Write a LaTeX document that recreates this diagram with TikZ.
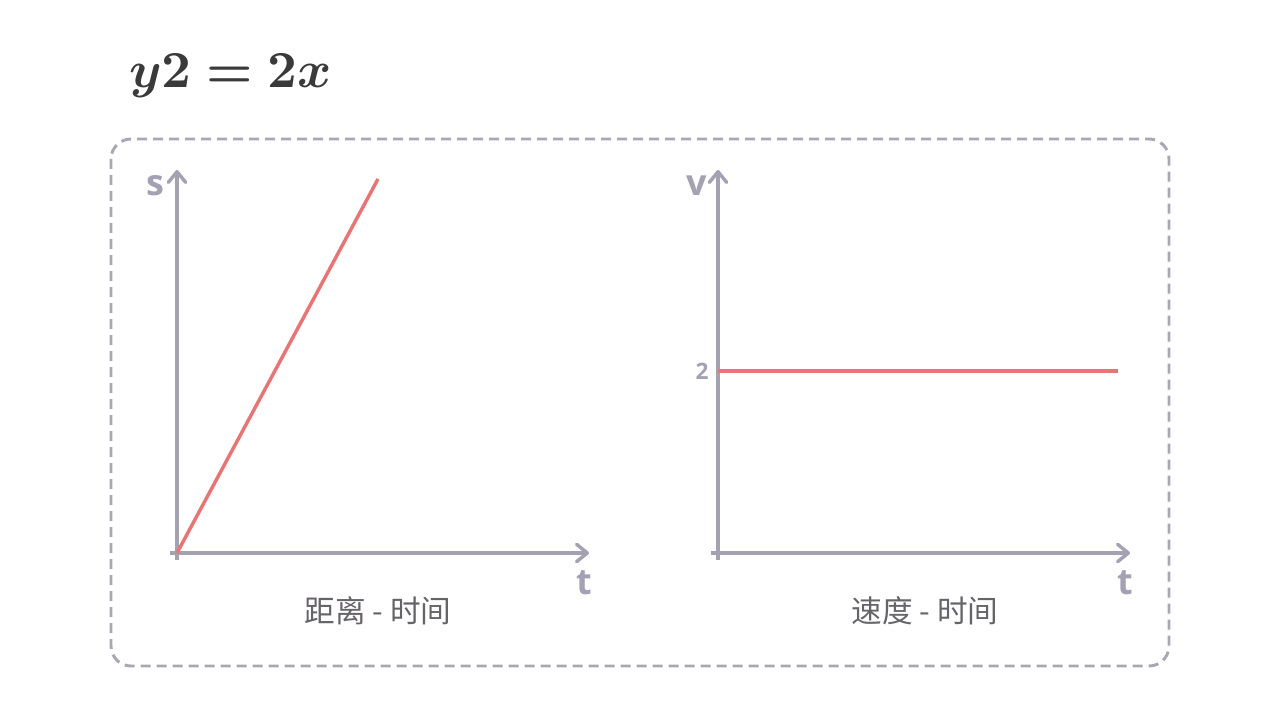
\documentclass[tikz,border=0pt]{standalone}
\usepackage{amsmath}
\usepackage{bm}
\usepackage{fontspec}
\newfontfamily\cjk{Noto Sans CJK SC}
\newfontfamily\lab{Open Sans}
\usetikzlibrary{arrows.meta}
\definecolor{axisc}{HTML}{A4A1B3}
\definecolor{redc}{HTML}{E87575}
\definecolor{titlec}{HTML}{3A3A3A}
\definecolor{capc}{HTML}{666468}
\definecolor{framec}{HTML}{A9A7B2}
\tikzset{
  axis/.style={draw=axisc, line width=3pt, -{Straight Barb[length=8pt,width=13pt,line width=2.6pt,round]}},
  curve/.style={draw=redc, line width=2.6pt},
  axlab/.style={text=axisc, font=\lab\bfseries\fontsize{27}{30}\selectfont, inner sep=0pt},
  caption/.style={text=capc, font=\cjk\fontsize{23}{27}\selectfont, inner sep=0pt},
}
\begin{document}
\begin{tikzpicture}[x=0.75pt,y=-0.75pt]
\useasboundingbox (0,0) rectangle (1280,720);
\node[anchor=base west, text=titlec, inner sep=0pt] (title) at (129,88) {\scalebox{3.9}{$\bm{y2=2x}$}};
\draw[framec, line width=2.2pt, dash pattern=on 7.5pt off 4.5pt, rounded corners=15pt] (111,139) rectangle (1169,666);
% left graph
\coordinate (o1) at (177,553);
\coordinate (y1b) at (177,560);
\coordinate (y1t) at (177,170);
\coordinate (x1l) at (170,553);
\coordinate (x1r) at (589,553);
\coordinate (l1e) at (378,179);
\draw[axis] (y1b) -- (y1t);
\draw[axis] (x1l) -- (x1r);
\draw[curve] (o1) -- (l1e);
\node[axlab] (s) at (155,186) {s};
\node[axlab] (t1) at (584,583) {t};
\node[caption] (c1) at (378,611) {距离 - 时间};
% right graph
\coordinate (o2) at (718,553);
\coordinate (y2b) at (718,560);
\coordinate (y2t) at (718,170);
\coordinate (x2l) at (711,553);
\coordinate (x2r) at (1130,553);
\coordinate (l2s) at (718,371);
\coordinate (l2e) at (1118,371);
\draw[axis] (y2b) -- (y2t);
\draw[axis] (x2l) -- (x2r);
\draw[curve] (l2s) -- (l2e);
\node[axlab] (v) at (697,186) {v};
\node[axlab, font=\lab\bfseries\fontsize{17}{20}\selectfont] (two) at (702,371) {2};
\node[axlab] (t2) at (1125,583) {t};
\node[caption] (c2) at (925,611) {速度 - 时间};
\end{tikzpicture}
\end{document}
